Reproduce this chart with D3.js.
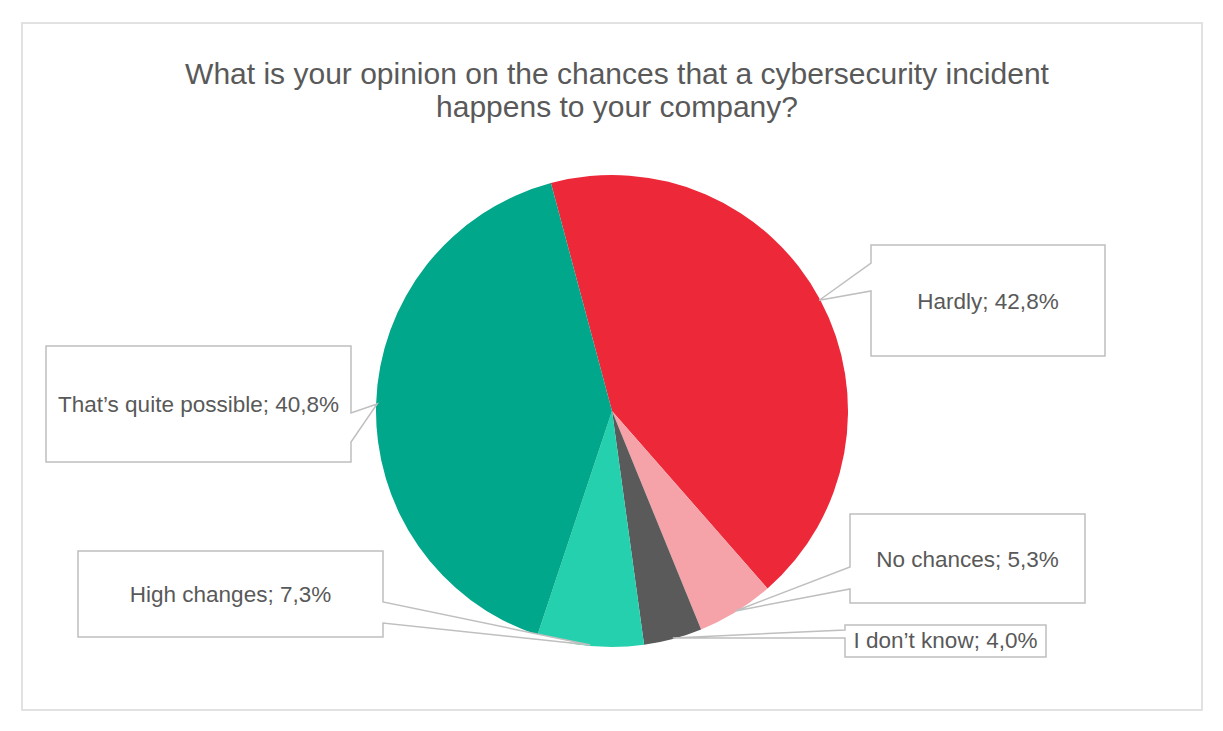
<!DOCTYPE html>
<html>
<head>
<meta charset="utf-8">
<script src="https://cdn.jsdelivr.net/npm/d3@7"></script>
<style>
  html, body { margin: 0; padding: 0; background: #fff; }
  svg { display: block; }
  text { font-family: "Liberation Sans", Arial, sans-serif; fill: #595959; }
</style>
</head>
<body>
<svg id="chart" width="1223" height="731"></svg>
<script>
// ---- data ----
const titleLines = ["What is your opinion on the chances that a cybersecurity incident", "happens to your company?"];
const categories = ["Hardly", "No chances", "I don\u2019t know", "High changes", "That\u2019s quite possible"];
const values = [42.8, 5.3, 4.0, 7.3, 40.8];
const valueLabels = ["42,8%", "5,3%", "4,0%", "7,3%", "40,8%"];
const colors = ["#EC2839", "#F5A3A9", "#5A5A5A", "#24D0AE", "#00A78A"];

// ---- layout (not data) ----
const W = 1223, H = 731;
const cx = 612, cy = 411, R = 236;
const startDeg = -15;
const boxes = [
  {x0: 871, y0: 245, x1: 1105, y1: 356, side: "left",  p1: 263, p2: 291, ty: 309},
  {x0: 850, y0: 514, x1: 1085, y1: 603, side: "left",  p1: 567, p2: 589, ty: 567},
  {x0: 845, y0: 625, x1: 1046, y1: 657, side: "left",  p1: 630, p2: 638, ty: 648},
  {x0: 78,  y0: 551, x1: 383,  y1: 637, side: "right", p1: 602, p2: 623, ty: 602},
  {x0: 46,  y0: 346, x1: 351,  y1: 462, side: "right", p1: 413, p2: 442, ty: 412}
];

const svg = d3.select("#chart");

// frame
svg.append("rect")
  .attr("x", 22).attr("y", 23).attr("width", 1180).attr("height", 687)
  .attr("fill", "#fff").attr("stroke", "#d9d9d9").attr("stroke-width", 1.5);

// title
svg.append("text")
  .attr("text-anchor", "middle")
  .attr("font-size", 30)
  .selectAll("tspan").data(titleLines).join("tspan")
  .attr("x", 617).attr("y", (d, i) => 84 + i * 33)
  .text(d => d);

const startA = startDeg * Math.PI / 180;
const pie = d3.pie().sort(null).value(d => d).startAngle(startA).endAngle(startA + 2 * Math.PI);
const arcs = pie(values);
const arc = d3.arc().innerRadius(0).outerRadius(R);
const edgeArc = d3.arc().innerRadius(R - 1).outerRadius(R - 1);

const g = svg.append("g").attr("transform", `translate(${cx},${cy})`);

// callouts
arcs.forEach((a, i) => {
  const b = boxes[i];
  const c = edgeArc.centroid(a);
  const ax = cx + c[0], ay = cy + c[1];
  let p;
  if (b.side === "left") {
    p = `M${b.x0},${b.y0}L${b.x1},${b.y0}L${b.x1},${b.y1}L${b.x0},${b.y1}L${b.x0},${b.p2}L${ax},${ay}L${b.x0},${b.p1}Z`;
  } else {
    p = `M${b.x0},${b.y0}L${b.x1},${b.y0}L${b.x1},${b.p1}L${ax},${ay}L${b.x1},${b.p2}L${b.x1},${b.y1}L${b.x0},${b.y1}Z`;
  }
  svg.append("path").attr("d", p)
    .attr("fill", "#fff").attr("stroke", "#bfbfbf").attr("stroke-width", 1.5)
    .attr("stroke-linejoin", "miter");
});

// slices
g.selectAll("path.slice").data(arcs).join("path")
  .attr("class", "slice")
  .attr("d", arc)
  .attr("fill", (d, i) => colors[i]);

// labels
svg.selectAll("text.lbl").data(arcs).join("text")
  .attr("class", "lbl")
  .attr("text-anchor", "middle")
  .attr("font-size", 22.5)
  .attr("x", (d, i) => (boxes[i].x0 + boxes[i].x1) / 2)
  .attr("y", (d, i) => boxes[i].ty)
  .text((d, i) => `${categories[i]}; ${valueLabels[i]}`);
</script>
</body>
</html>
